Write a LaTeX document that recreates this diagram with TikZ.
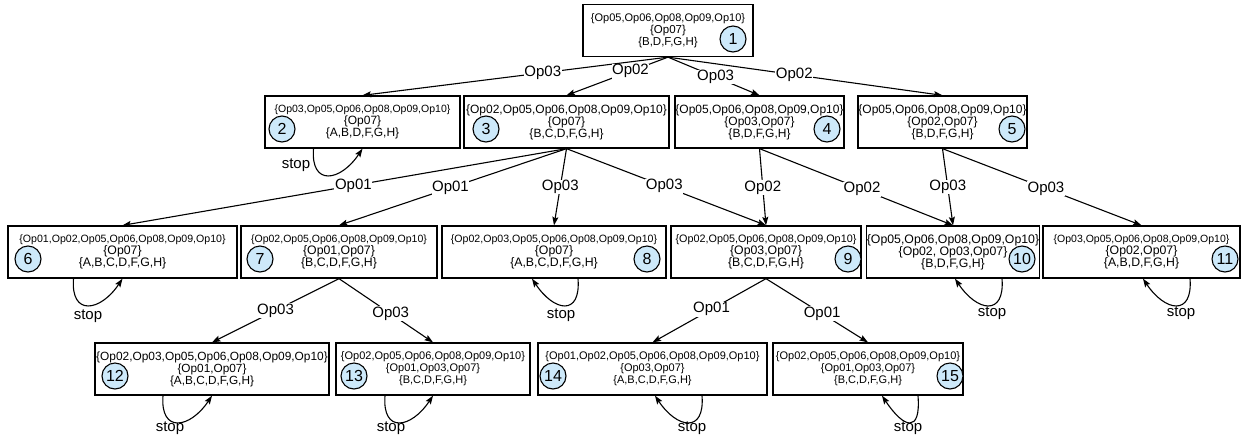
\documentclass[tikz,border=0pt]{standalone}
\usepackage{fontspec}
\setmainfont{Liberation Sans}
\usetikzlibrary{arrows.meta}
\definecolor{numblue}{RGB}{205,233,250}
% three-line state label: #1 size of first line, #2 size of the other lines
\newcommand\statetext[5]{\fontsize{#1}{13}\selectfont #3\\\fontsize{#2}{13}\selectfont #4\\\fontsize{#2}{13}\selectfont #5}
\begin{document}
\begin{tikzpicture}[x=1pt,y=-1pt,
  state/.style={draw=black, line width=1.3pt, fill=white, inner sep=0pt, align=center, minimum height=52pt},
  num/.style={circle, draw=black, line width=1.1pt, fill=numblue, minimum size=26pt, inner sep=0pt, font=\fontsize{16}{16}\selectfont},
  edge/.style={line width=1.1pt, -{Stealth[length=8.5pt,width=6pt,inset=1.5pt]}},
  lbl/.style={fill=white, inner sep=0.6pt, font=\fontsize{15}{15}\selectfont},
  stoplbl/.style={inner sep=0pt, font=\fontsize{15}{15}\selectfont}]
\useasboundingbox[fill=white] (0,0) rectangle (1247,440);

% states
\node[state, minimum width=170pt] (b1) at (668,30.5) {\statetext{11}{11.5}{\{Op05,Op06,Op08,Op09,Op10\}}{\{Op07\}}{\{B,D,F,G,H\}}};
\node[state, minimum width=195pt] (b2) at (362.5,122) {\statetext{10.5}{12}{\{Op03,Op05,Op06,Op08,Op09,Op10\}}{\{Op07\}}{\{A,B,D,F,G,H\}}};
\node[state, minimum width=205pt] (b3) at (566.5,122) {\statetext{12}{12}{\{Op02,Op05,Op06,Op08,Op09,Op10\}}{\{Op07\}}{\{B,C,D,F,G,H\}}};
\node[state, minimum width=169pt] (b4) at (759.5,122) {\statetext{12}{12}{\{Op05,Op06,Op08,Op09,Op10\}}{\{Op03,Op07\}}{\{B,D,F,G,H\}}};
\node[state, minimum width=169pt] (b5) at (942.5,122) {\statetext{12}{12}{\{Op05,Op06,Op08,Op09,Op10\}}{\{Op02,Op07\}}{\{B,D,F,G,H\}}};
\node[state, minimum width=229pt] (b6) at (122.5,252) {\statetext{10.6}{12.3}{\{Op01,Op02,Op05,Op06,Op08,Op09,Op10\}}{\{Op07\}}{\{A,B,C,D,F,G,H\}}};
\node[state, minimum width=196pt] (b7) at (339,252) {\statetext{10.5}{12.3}{\{Op02,Op05,Op06,Op08,Op09,Op10\}}{\{Op01,Op07\}}{\{B,C,D,F,G,H\}}};
\node[state, minimum width=224pt] (b8) at (554,252) {\statetext{10.6}{12.3}{\{Op02,Op03,Op05,Op06,Op08,Op09,Op10\}}{\{Op07\}}{\{A,B,C,D,F,G,H\}}};
\node[state, minimum width=190pt] (b9) at (766,252) {\statetext{10.8}{12.3}{\{Op02,Op05,Op06,Op08,Op09,Op10\}}{\{Op03,Op07\}}{\{B,C,D,F,G,H\}}};
\node[state, minimum width=170pt] (b10) at (953,252) {\statetext{12.3}{12.3}{\{Op05,Op06,Op08,Op09,Op10\}}{\{Op02, Op03,Op07\}}{\{B,D,F,G,H\}}};
\node[state, minimum width=197pt] (b11) at (1141.5,252) {\statetext{10.5}{12.3}{\{Op03,Op05,Op06,Op08,Op09,Op10\}}{\{Op02,Op07\}}{\{A,B,D,F,G,H\}}};
\node[state, minimum width=234pt] (b12) at (212,369) {\statetext{11.9}{11.8}{\{Op02,Op03,Op05,Op06,Op08,Op09,Op10\}}{\{Op01,Op07\}}{\{A,B,C,D,F,G,H\}}};
\node[state, minimum width=194pt] (b13) at (433,369) {\statetext{11}{11}{\{Op02,Op05,Op06,Op08,Op09,Op10\}}{\{Op01,Op03,Op07\}}{\{B,C,D,F,G,H\}}};
\node[state, minimum width=229pt] (b14) at (652.5,369) {\statetext{11}{11}{\{Op01,Op02,Op05,Op06,Op08,Op09,Op10\}}{\{Op03,Op07\}}{\{A,B,C,D,F,G,H\}}};
\node[state, minimum width=190pt] (b15) at (868,369) {\statetext{11}{11}{\{Op02,Op05,Op06,Op08,Op09,Op10\}}{\{Op01,Op03,Op07\}}{\{B,C,D,F,G,H\}}};

% state numbers
\node[num] (c1) at (733,39) {1};
\node[num] (c2) at (282,129) {2};
\node[num] (c3) at (486,129) {3};
\node[num] (c4) at (827,129) {4};
\node[num] (c5) at (1012,129) {5};
\node[num] (c6) at (28,259) {6};
\node[num] (c7) at (260,259) {7};
\node[num] (c8) at (647,259) {8};
\node[num] (c9) at (848,259) {9};
\node[num] (c10) at (1022,259) {10};
\node[num] (c11) at (1225,259) {11};
\node[num] (c12) at (115,376) {12};
\node[num] (c13) at (354,376) {13};
\node[num] (c14) at (553,376) {14};
\node[num] (c15) at (950,376) {15};

% transitions
\draw[edge] (b1.south) -- node[lbl,pos=0.41]{Op03} (b2.north);
\draw[edge] (b1.south) -- node[lbl,pos=0.37]{Op02} (b3.north);
\draw[edge] (b1.south) -- node[lbl,pos=0.52]{Op03} (b4.north);
\draw[edge] (b1.south) -- node[lbl,pos=0.46]{Op02} (b5.north);

\draw[edge] (b3.south) -- node[lbl,pos=0.48]{Op01} (b6.north);
\draw[edge] (b3.south) -- node[lbl,pos=0.51]{Op01} (b7.north);
\draw[edge] (b3.south) -- node[lbl,pos=0.5]{Op03} (b8.north);
\draw[edge] (b3.south) -- node[lbl,pos=0.49]{Op03} (b9.north);
\draw[edge] (b4.south) -- node[lbl,pos=0.51]{Op02} (b9.north);
\draw[edge] (b4.south) -- node[lbl,pos=0.53]{Op02} (b10.north);
\draw[edge] (b5.south) -- node[lbl,pos=0.5]{Op03} (b10.north);
\draw[edge] (b5.south) -- node[lbl,pos=0.52]{Op03} (b11.north);

\draw[edge] (b7.south) -- node[lbl,pos=0.5]{Op03} (b12.north);
\draw[edge] (b7.south) -- node[lbl,pos=0.55]{Op03} (b13.north);
\draw[edge] (b9.south) -- node[lbl,pos=0.48]{Op01} (b14.north);
\draw[edge] (b9.south) -- node[lbl,pos=0.55]{Op01} (b15.north);

% stop loops opening to the left
\draw[edge] ([xshift=-49pt]b2.south) .. controls ([xshift=-52pt,yshift=-38pt]b2.south) and ([xshift=-22pt,yshift=-33pt]b2.south) .. (b2.south);
\draw[edge] ([xshift=-49pt]b6.south) .. controls ([xshift=-52pt,yshift=-38pt]b6.south) and ([xshift=-22pt,yshift=-33pt]b6.south) .. (b6.south);
\draw[edge] ([xshift=-49pt]b12.south) .. controls ([xshift=-52pt,yshift=-38pt]b12.south) and ([xshift=-22pt,yshift=-33pt]b12.south) .. (b12.south);
\draw[edge] ([xshift=-48pt]b13.south) .. controls ([xshift=-51pt,yshift=-38pt]b13.south) and ([xshift=-22pt,yshift=-33pt]b13.south) .. (b13.south);
% stop loops opening to the right
\draw[edge] ([xshift=24pt]b8.south) .. controls ([xshift=27pt,yshift=-38pt]b8.south) and ([xshift=0pt,yshift=-33pt]b8.south) .. ([xshift=-22pt]b8.south);
\draw[edge] ([xshift=49pt]b10.south) .. controls ([xshift=52pt,yshift=-38pt]b10.south) and ([xshift=24pt,yshift=-33pt]b10.south) .. ([xshift=2pt]b10.south);
\draw[edge] ([xshift=48.5pt]b11.south) .. controls ([xshift=51.5pt,yshift=-38pt]b11.south) and ([xshift=23.5pt,yshift=-33pt]b11.south) .. ([xshift=1.5pt]b11.south);
\draw[edge] ([xshift=49.5pt]b14.south) .. controls ([xshift=52.5pt,yshift=-38pt]b14.south) and ([xshift=24.5pt,yshift=-33pt]b14.south) .. ([xshift=2.5pt]b14.south);
\draw[edge] ([xshift=50pt]b15.south) .. controls ([xshift=53pt,yshift=-38pt]b15.south) and ([xshift=36pt,yshift=-33pt]b15.south) .. ([xshift=14pt]b15.south);

% loop labels
\node[stoplbl] (s2) at (296,165) {stop};
\node[stoplbl] (s6) at (88,316) {stop};
\node[stoplbl] (s8) at (561,315) {stop};
\node[stoplbl] (s10) at (992,313) {stop};
\node[stoplbl] (s11) at (1181,313) {stop};
\node[stoplbl] (s12) at (170,428) {stop};
\node[stoplbl] (s13) at (391,428) {stop};
\node[stoplbl] (s14) at (692,428) {stop};
\node[stoplbl] (s15) at (908,428) {stop};
\end{tikzpicture}
\end{document}
